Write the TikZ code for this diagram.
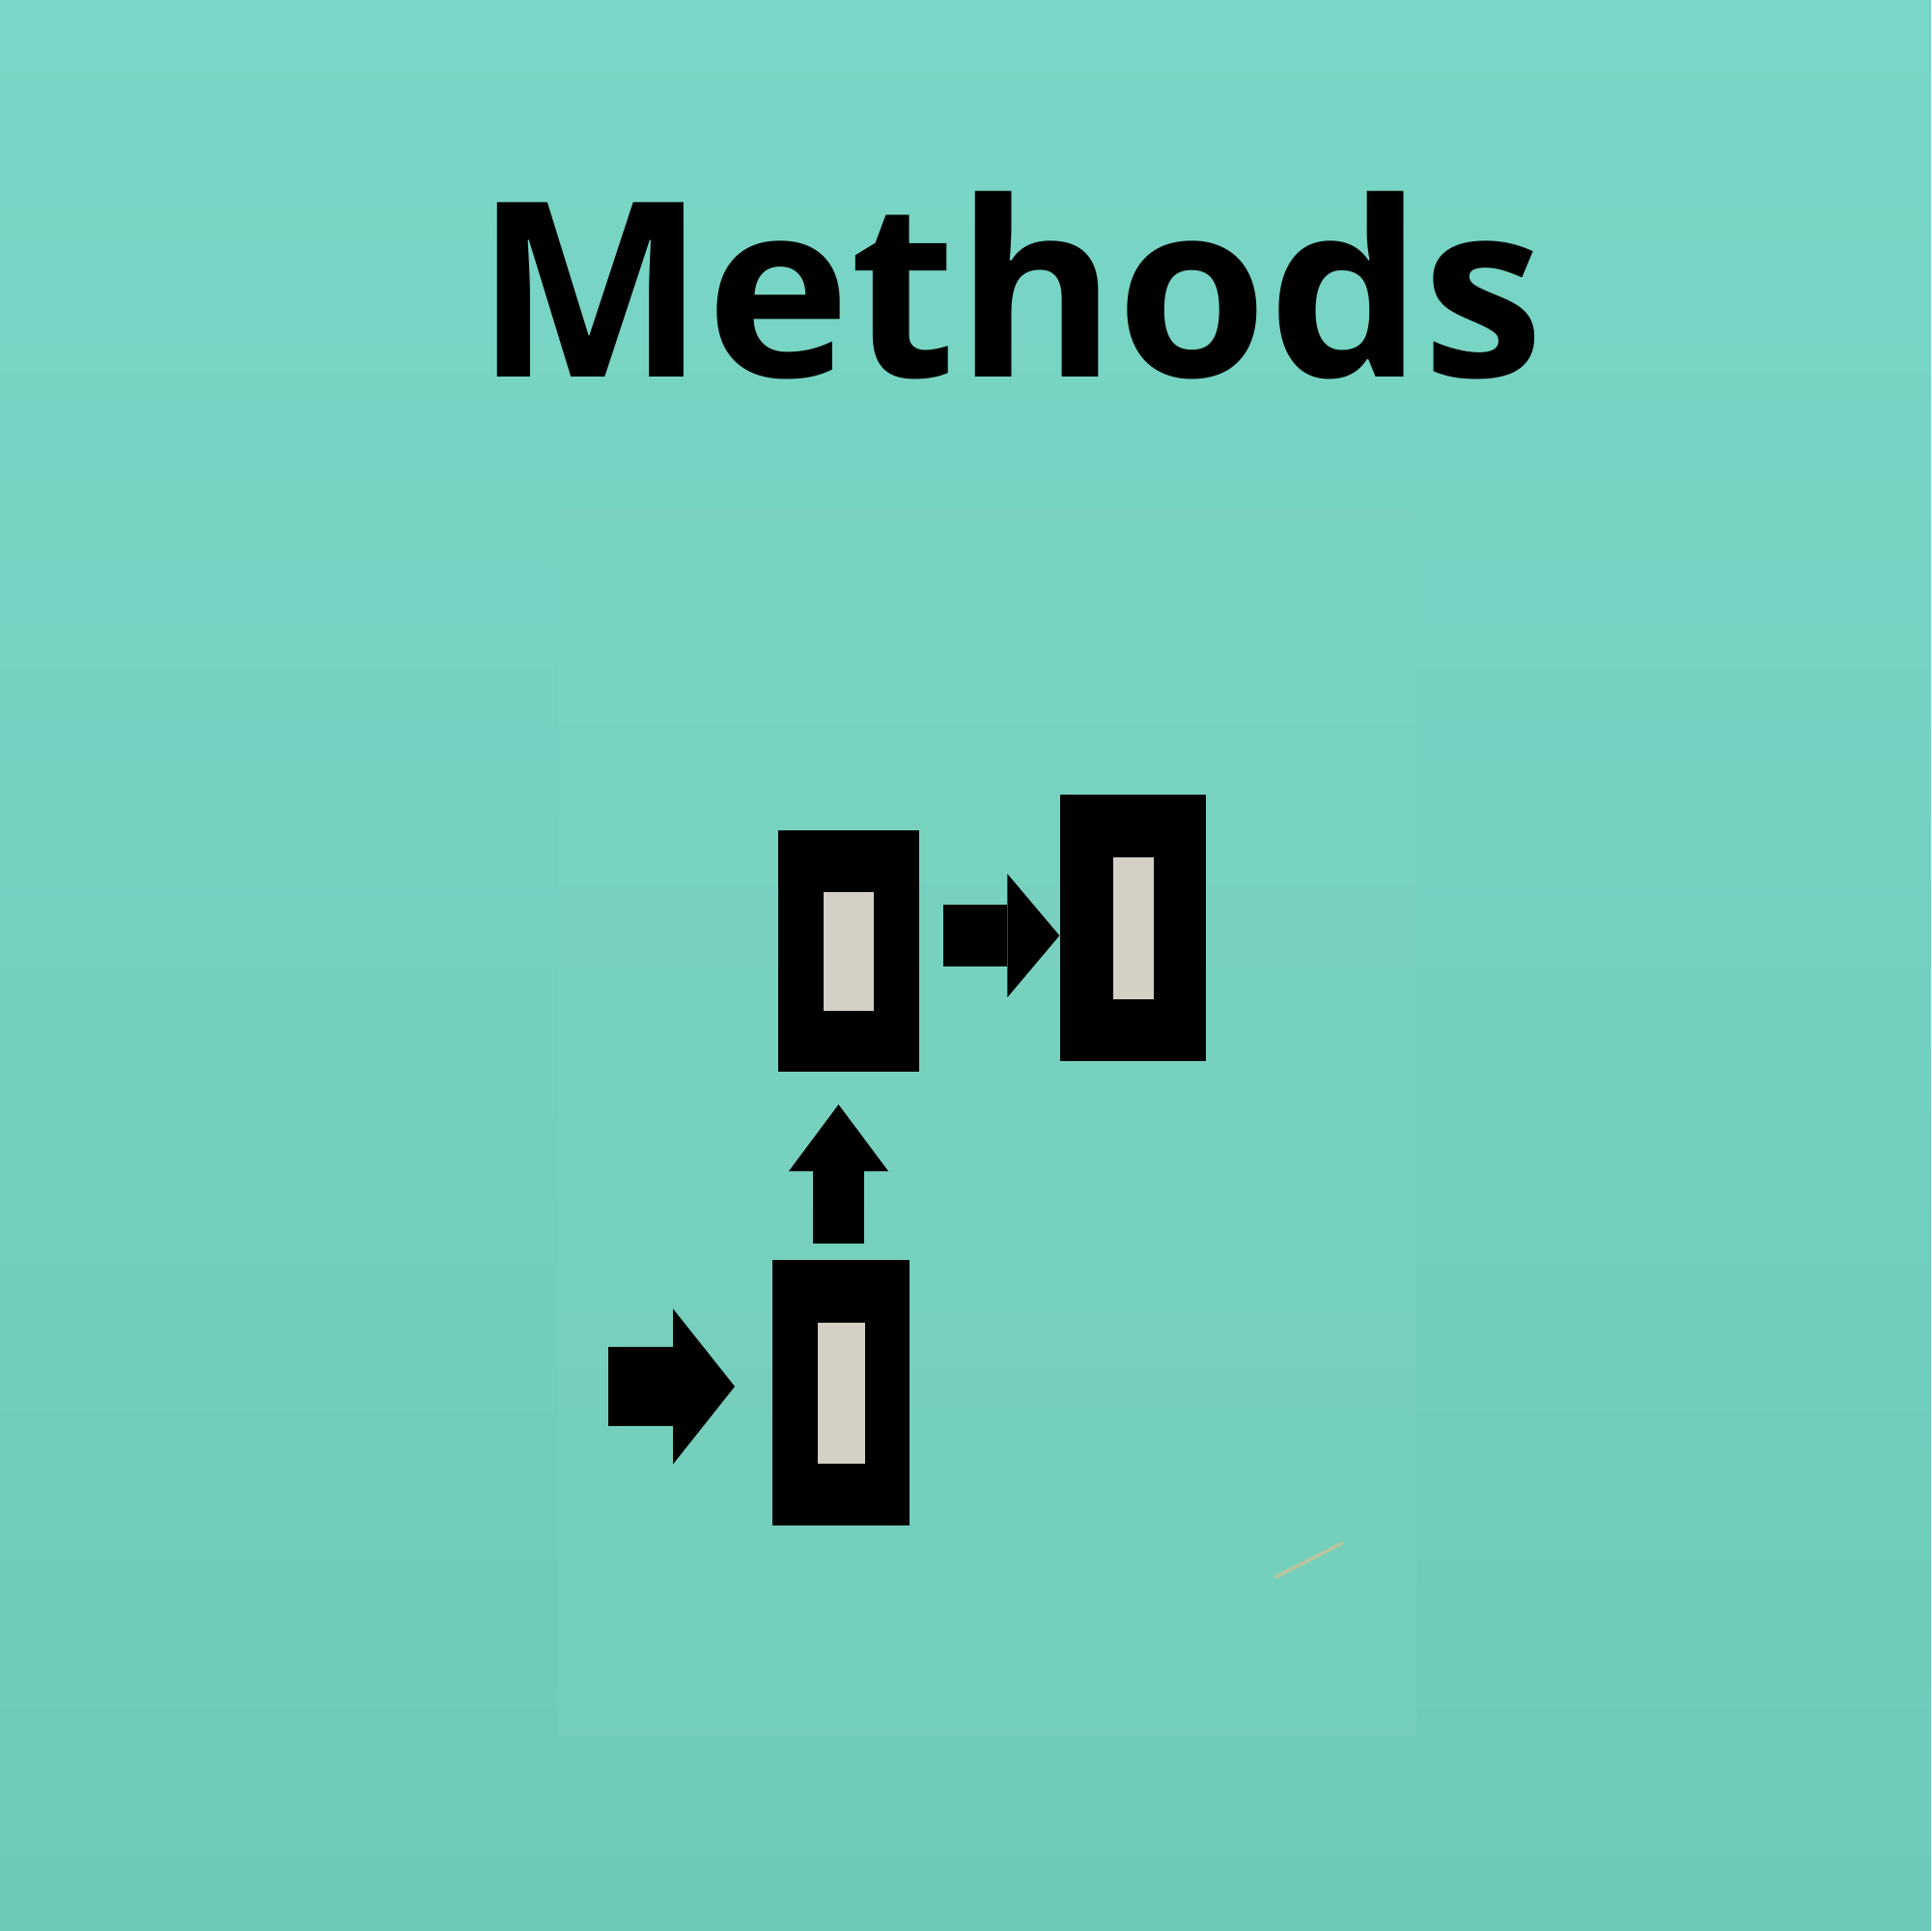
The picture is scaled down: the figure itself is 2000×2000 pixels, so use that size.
\documentclass[tikz,border=0pt]{standalone}
\usepackage{fontspec}
\setmainfont{Open Sans}
\usepackage{xcolor}
\usepackage{tikz}
\usetikzlibrary{arrows.meta,positioning,calc}
\definecolor{LagoonTop}{HTML}{7AD6C6}
\definecolor{LagoonBottom}{HTML}{6DCAB8}
\definecolor{PanelTint}{HTML}{82D6C2}
\definecolor{Ink}{HTML}{000000}
\definecolor{Bone}{HTML}{D4D0C6}
\definecolor{StrayStroke}{HTML}{B3C69F}

\begin{document}
\begin{tikzpicture}[x=0.1mm,y=-0.1mm]
  \path[use as bounding box] (0,0) rectangle (2000,2000);
  \tikzset{
    mdPanel/.style={fill=PanelTint, fill opacity=0.3, draw=none, inner sep=0pt},
    mdBlock/.style={fill=Ink, draw=none, inner sep=0pt},
    mdSlot/.style={fill=Bone, draw=none, inner sep=0pt},
    mdFlow/.style={draw=Ink, line cap=butt, line join=miter}
  }
  \shade[top color=LagoonTop, bottom color=LagoonBottom] (0,0) rectangle (2000,2000);

  \node[mdPanel, minimum width=88.9mm, minimum height=127.3mm] (panel) at (1022,1161) {};

  \node[font=\fontsize{72}{80}\selectfont\bfseries, text=Ink, anchor=base] (title) at (1046,390) {Methods};

  \node[mdBlock, minimum width=14.6mm, minimum height=25mm] (a) at (879,985) {};
  \node[mdSlot, minimum width=5.2mm, minimum height=12.3mm] (aSlot) at (a.center) {};
  \node[mdBlock, minimum width=15.1mm, minimum height=27.6mm] (b) at (1173.5,961) {};
  \node[mdSlot, minimum width=4.2mm, minimum height=14.7mm] (bSlot) at (b.center) {};
  \node[mdBlock, minimum width=14.2mm, minimum height=27.5mm] (c) at (871,1442.5) {};
  \node[mdSlot, minimum width=4.9mm, minimum height=14.6mm] (cSlot) at (c.center) {};

  \coordinate (abTail) at (977,969);
  \coordinate (upTail) at (868.5,1288);
  \coordinate (upTip) at (868.5,1144);
  \coordinate (inTail) at (630,1436);
  \coordinate (inTip) at (761,1436);

  \draw[mdFlow, line width=6.4mm, -{Triangle[length=5.4mm,width=12.8mm,line width=0pt]}] (abTail) -- (abTail -| b.west);
  \draw[mdFlow, line width=5.3mm, -{Triangle[length=6.9mm,width=10.3mm,line width=0pt]}] (upTail) -- (upTip);
  \draw[mdFlow, line width=8.2mm, -{Triangle[length=6.4mm,width=16.1mm,line width=0pt]}] (inTail) -- (inTip);

  % faint pencil-like mark in the lower right of the panel
  \coordinate (strayA) at (1322,1633);
  \coordinate (strayB) at (1389,1599);
  \draw[StrayStroke, line width=0.4mm, line cap=round] (strayA) -- (strayB);
\end{tikzpicture}
\end{document}
